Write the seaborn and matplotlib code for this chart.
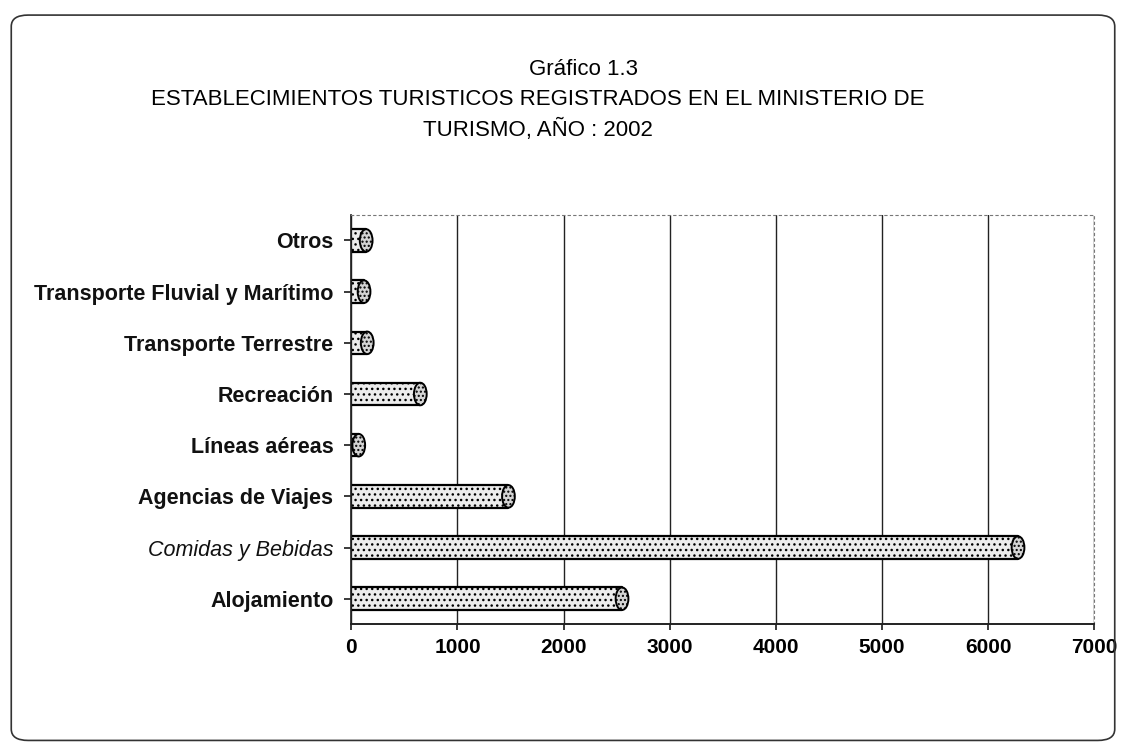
import matplotlib
matplotlib.use("Agg")
import matplotlib.pyplot as plt
import seaborn as sns
import pandas as pd
from matplotlib.patches import FancyBboxPatch, Ellipse

categories = ["Otros", "Transporte Fluvial y Marítimo", "Transporte Terrestre",
              "Recreación", "Líneas aéreas", "Agencias de Viajes",
              "Comidas y Bebidas", "Alojamiento"]
values = [140, 120, 150, 650, 70, 1480, 6280, 2550]
xticks = [0, 1000, 2000, 3000, 4000, 5000, 6000, 7000]

df = pd.DataFrame({"categoria": categories, "valor": values})

sns.set_theme(style="white")
plt.rcParams['font.family'] = ['Liberation Sans', 'DejaVu Sans']

fig = plt.figure(figsize=(11.26, 7.54), dpi=100)
frame = FancyBboxPatch((0.010, 0.018), 0.980, 0.962, boxstyle="round,pad=0,rounding_size=0.015",
                       transform=fig.transFigure, fill=False, edgecolor="#333333", linewidth=1.2)
fig.patches.append(frame)

fig.text(0.518, 0.908, "Gráfico 1.3", ha="center", va="center", fontsize=16, color="black")
fig.text(0.478, 0.868, "ESTABLECIMIENTOS TURISTICOS REGISTRADOS EN EL MINISTERIO DE",
         ha="center", va="center", fontsize=16, color="black")
fig.text(0.478, 0.828, "TURISMO, AÑO : 2002", ha="center", va="center", fontsize=16, color="black")

ax = fig.add_axes([0.312, 0.172, 0.66, 0.543])
sns.barplot(data=df, y="categoria", x="valor", orient="h", ax=ax,
            color="#ececec", edgecolor="black", linewidth=1.6, width=0.44)
for p in ax.patches:
    p.set_hatch("...")
    p.set_joinstyle("round")
for p in ax.patches:
    x0 = p.get_x() + p.get_width()
    yc = p.get_y() + p.get_height() / 2
    cap = Ellipse((x0, yc), width=120, height=p.get_height(), facecolor="#d4d4d4",
                  edgecolor="black", linewidth=1.4, hatch="....", zorder=3)
    ax.add_patch(cap)

ax.set_xlim(0, 7000)
ax.set_xticks(xticks)
ax.set_xticklabels([str(t) for t in xticks], fontsize=15, fontweight="bold", color="black")
ax.set_ylabel("")
ax.set_xlabel("")
ax.grid(axis="x", color="#222222", linewidth=1.0)
ax.set_axisbelow(True)
for s in ["top", "right"]:
    ax.spines[s].set_linestyle((0, (2, 3)))
    ax.spines[s].set_color("#777777")
    ax.spines[s].set_linewidth(0.8)
ax.spines["left"].set_color("#222222")
ax.spines["bottom"].set_color("#222222")
ax.spines["bottom"].set_linewidth(1.4)
ax.tick_params(axis="y", length=5, left=True, color="#222222", pad=8)
ax.tick_params(axis="x", length=4, bottom=True, color="#222222", pad=6)
for lab in ax.get_yticklabels():
    lab.set_fontsize(15.5)
    lab.set_fontweight("bold")
    lab.set_color("#111111")
    if lab.get_text() == "Comidas y Bebidas":
        lab.set_fontstyle("italic")
        lab.set_fontweight("normal")

fig.savefig("out.png", dpi=100, facecolor="white")
